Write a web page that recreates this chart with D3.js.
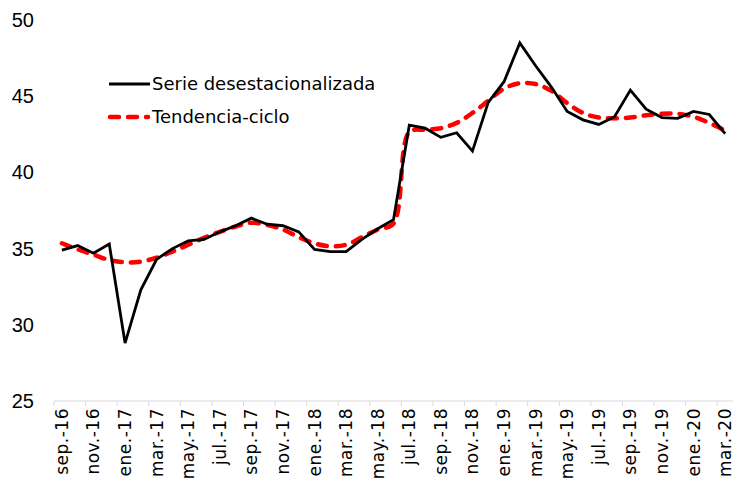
<!DOCTYPE html>
<html>
<head>
<meta charset="utf-8">
<script src="https://cdn.jsdelivr.net/npm/d3@7"></script>
<style>
  body { margin: 0; background: #fff; }
  svg { display: block; }
</style>
</head>
<body>
<div id="chart"></div>
<script>
// Meses (sep-16 a mar-20)
const months = [
  "sep.-16","oct.-16","nov.-16","dic.-16",
  "ene.-17","feb.-17","mar.-17","abr.-17","may.-17","jun.-17","jul.-17","ago.-17","sep.-17","oct.-17","nov.-17","dic.-17",
  "ene.-18","feb.-18","mar.-18","abr.-18","may.-18","jun.-18","jul.-18","ago.-18","sep.-18","oct.-18","nov.-18","dic.-18",
  "ene.-19","feb.-19","mar.-19","abr.-19","may.-19","jun.-19","jul.-19","ago.-19","sep.-19","oct.-19","nov.-19","dic.-19",
  "ene.-20","feb.-20","mar.-20"
];

// Serie desestacionalizada
const serieDesest = [
  34.9, 35.2, 34.7, 35.3,
  28.8, 32.3, 34.3, 35.0, 35.5, 35.6, 36.1, 36.5, 37.0, 36.6, 36.5, 36.1,
  34.95, 34.8, 34.8, 35.6, 36.3, 36.9, 43.1, 42.9, 42.3, 42.6, 41.4, 44.6,
  45.95, 48.5, 47.0, 45.6, 44.0, 43.45, 43.15, 43.65, 45.4, 44.15, 43.6, 43.55,
  44.0, 43.8, 42.55
];

// Tendencia-ciclo
const tendCiclo = [
  35.35, 34.95, 34.6, 34.25,
  34.1, 34.15, 34.4, 34.8, 35.25, 35.7, 36.1, 36.45, 36.7, 36.55, 36.25, 35.75,
  35.35, 35.15, 35.25, 35.75, 36.25, 36.65, 42.65, 42.8, 42.9, 43.25, 43.9, 44.7,
  45.5, 45.85, 45.8, 45.35, 44.55, 43.9, 43.6, 43.55, 43.6, 43.75, 43.85, 43.85,
  43.65, 43.25, 42.75
];

const yTicks = [25, 30, 35, 40, 45, 50];

const width = 743, height = 481;
const svg = d3.select('#chart').append('svg')
  .attr('width', width)
  .attr('height', height);

// Escalas
const x = d3.scaleBand().domain(months).range([54, 733]).padding(0);
const y = d3.scaleLinear().domain([25, 50]).range([401, 20]);
const cx = d => x(d) + x.bandwidth() / 2;

// Eje X: línea + marcas cada dos meses (entre categorías)
const axisColor = '#d9d9d9';
svg.append('line')
  .attr('x1', 54).attr('x2', 733)
  .attr('y1', y(25)).attr('y2', y(25))
  .attr('stroke', axisColor).attr('stroke-width', 1);

const tickMonths = months.filter((m, i) => i % 2 === 0);
svg.selectAll('.xtick')
  .data(tickMonths)
  .enter().append('line')
  .attr('class', 'xtick')
  .attr('x1', d => x(d)).attr('x2', d => x(d))
  .attr('y1', y(25)).attr('y2', y(25) + 5)
  .attr('stroke', axisColor).attr('stroke-width', 1);

// Etiquetas X rotadas
svg.selectAll('.xlabel')
  .data(tickMonths)
  .enter().append('text')
  .attr('class', 'xlabel')
  .attr('transform', d => `translate(${cx(d) + 6},${y(25) + 7}) rotate(-90)`)
  .attr('text-anchor', 'end')
  .attr('font-family', 'DejaVu Sans, sans-serif')
  .attr('font-size', '17px')
  .attr('letter-spacing', '0.5px')
  .attr('fill', '#000')
  .text(d => d);

// Etiquetas Y
svg.selectAll('.ylabel')
  .data(yTicks)
  .enter().append('text')
  .attr('class', 'ylabel')
  .attr('x', 34)
  .attr('y', d => y(d) + 7)
  .attr('text-anchor', 'end')
  .attr('font-family', 'Liberation Sans, Arial, sans-serif')
  .attr('font-size', '20px')
  .attr('fill', '#000')
  .text(d => d);

// Líneas
const lineDesest = d3.line()
  .x((d, i) => cx(months[i]))
  .y(d => y(d));

const lineTend = d3.line()
  .x((d, i) => cx(months[i]))
  .y(d => y(d))
  .curve(d3.curveCatmullRom.alpha(0.5));

svg.append('path')
  .datum(tendCiclo)
  .attr('fill', 'none')
  .attr('stroke', '#ff0000')
  .attr('stroke-width', 4.5)
  .attr('stroke-dasharray', '9,9')
  .attr('stroke-linecap', 'round')
  .attr('d', lineTend);

svg.append('path')
  .datum(serieDesest)
  .attr('fill', 'none')
  .attr('stroke', '#000')
  .attr('stroke-width', 2.8)
  .attr('d', lineDesest);

// Leyenda
const legend = svg.append('g');
legend.append('line')
  .attr('x1', 109).attr('x2', 150)
  .attr('y1', 84).attr('y2', 84)
  .attr('stroke', '#000').attr('stroke-width', 2.8);
legend.append('text')
  .attr('x', 152).attr('y', 90)
  .attr('font-family', 'DejaVu Sans, sans-serif')
  .attr('font-size', '18px')
  .text('Serie desestacionalizada');

legend.append('line')
  .attr('x1', 110).attr('x2', 148)
  .attr('y1', 117).attr('y2', 117)
  .attr('stroke', '#ff0000').attr('stroke-width', 4.5)
  .attr('stroke-dasharray', '9,9')
  .attr('stroke-linecap', 'round');
legend.append('text')
  .attr('x', 152).attr('y', 123)
  .attr('font-family', 'DejaVu Sans, sans-serif')
  .attr('font-size', '18px')
  .text('Tendencia-ciclo');
</script>
</body>
</html>
